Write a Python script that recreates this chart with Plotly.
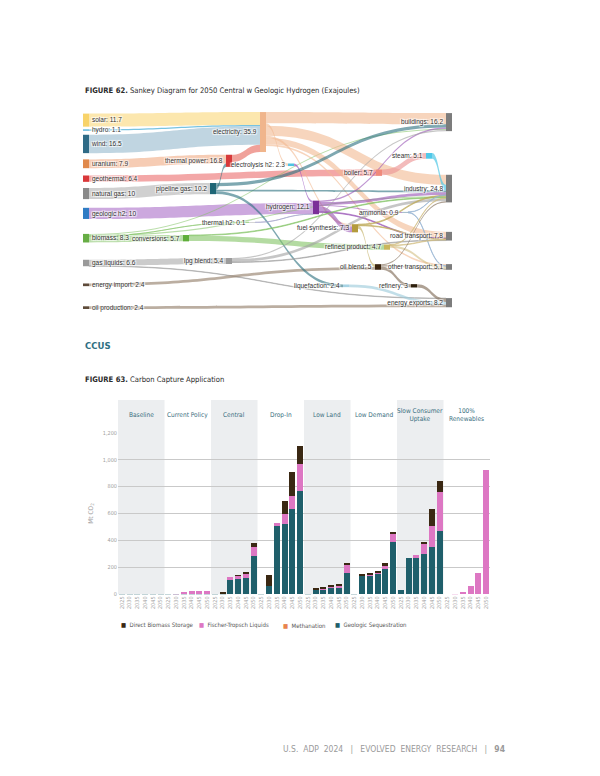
import plotly.graph_objects as go

# page is 600x776; the html body has an 8px margin, so the figure is placed at (8, 8)
OFF = 8
FW, FH = 584, 760
COND = "DejaVu Sans Condensed, Liberation Sans Narrow, Arial Narrow, sans-serif"
SANS = "Liberation Sans, Arial, sans-serif"


def fx(px):
    return (px - OFF) / FW


def fy(py):
    return 1 - (py - OFF) / FH


# ---------------- Sankey data ----------------
node_names = ["solar", "hydro", "wind", "uranium", "geothermal", "natural gas", "geologic h2",
              "biomass", "gas liquids", "energy import", "oil production",
              "electricity", "thermal power", "electrolysis h2", "pipeline gas", "hydrogen",
              "thermal h2", "conversions", "lpg blend", "fuel synthesis", "ammonia", "boiler",
              "steam", "refined product", "oil blend", "liquefaction", "refinery",
              "buildings", "industry", "road transport", "other transport", "energy exports"]
node_totals = [11.7, 1.1, 16.5, 7.9, 6.4, 10, 10, 8.3, 6.6, 2.4, 2.4,
               35.9, 16.8, 2.3, 10.2, 12.1, 0.1, 5.7, 5.4, 7.3, 0.9, 5.7,
               5.1, 4.7, 5, 2.4, 3,
               16.2, 24.8, 7.8, 5.1, 8.2]
sources = node_names[:11]
sinks = node_names[27:]

link_source = ["solar", "hydro", "wind", "uranium", "geothermal", "natural gas", "geologic h2",
               "biomass", "biomass", "biomass", "biomass",
               "gas liquids", "gas liquids", "energy import", "oil production",
               "thermal power",
               "electricity", "electricity", "electricity", "electricity", "electricity", "electricity",
               "electrolysis h2",
               "pipeline gas", "pipeline gas", "pipeline gas", "pipeline gas",
               "hydrogen", "hydrogen", "hydrogen", "hydrogen", "hydrogen",
               "thermal h2",
               "conversions", "conversions",
               "lpg blend", "lpg blend", "lpg blend",
               "fuel synthesis", "fuel synthesis", "fuel synthesis",
               "ammonia", "ammonia",
               "boiler", "steam",
               "refined product", "refined product", "refined product",
               "oil blend", "oil blend", "oil blend",
               "refinery", "liquefaction"]
link_target = ["electricity", "electricity", "electricity", "thermal power", "boiler", "pipeline gas", "hydrogen",
               "conversions", "industry", "buildings", "thermal h2",
               "lpg blend", "energy exports", "oil blend", "energy exports",
               "electricity",
               "buildings", "industry", "road transport", "other transport", "electrolysis h2", "fuel synthesis",
               "hydrogen",
               "thermal power", "buildings", "industry", "liquefaction",
               "fuel synthesis", "ammonia", "industry", "buildings", "road transport",
               "hydrogen",
               "refined product", "industry",
               "industry", "buildings", "road transport",
               "oil blend", "road transport", "industry",
               "other transport", "industry",
               "steam", "industry",
               "other transport", "road transport", "industry",
               "refinery", "industry", "other transport",
               "energy exports", "energy exports"]
link_value = [11.7, 1.1, 16.5, 7.9, 5.7, 10, 10,
              5.7, 1.0, 0.9, 0.1,
              5.4, 0.4, 2.4, 2.4,
              6.6,
              10, 9, 5.5, 1.5, 2.3, 2.1,
              2.1,
              3.0, 3.0, 1.5, 2.4,
              5.2, 0.9, 2.5, 1.3, 0.7,
              0.1,
              4.7, 0.6,
              2.5, 1.0, 0.5,
              2.6, 0.6, 0.8,
              0.6, 0.3,
              5.1, 5.1,
              2.0, 0.5, 0.5,
              3.0, 1.0, 1.0,
              3.0, 2.4]

# node styling / placement (pixel centres on the page)
node_color = ["#f8d36a", "#3fa9d6", "#2f6b86", "#e0894c", "#d9383a", "#8a8a8a", "#2f7cc4",
              "#67ad45", "#9a9a9a", "#5e4b3a", "#5e4b3a",
              "#f0b58c", "#d6393a", "#4ec3e3", "#1e6676", "#7a2f98",
              "#aaaaaa", "#5fae3a", "#9c9c9c", "#b49b3c", "#9fb8c8", "#ef8a7c",
              "#4fc8e8", "#c9b65c", "#3b2510", "#a7d3e4", "#2e1f0c",
              "#7c7c7c", "#7c7c7c", "#7c7c7c", "#7c7c7c", "#7c7c7c"]
node_px = {
    "solar": (86, 118), "hydro": (86, 128), "wind": (86, 142), "uranium": (86, 162),
    "geothermal": (86, 177), "natural gas": (86, 192), "geologic h2": (86, 212),
    "biomass": (86, 237), "gas liquids": (86, 262), "energy import": (86, 284),
    "oil production": (86, 307),
    "electricity": (263, 130), "thermal power": (229, 159), "electrolysis h2": (291, 163),
    "pipeline gas": (213, 187), "hydrogen": (316, 206), "thermal h2": (252, 221),
    "conversions": (186, 237), "lpg blend": (229, 260), "fuel synthesis": (355, 227),
    "ammonia": (405, 211), "boiler": (379, 171), "steam": (429, 154),
    "refined product": (387, 246), "oil blend": (378, 266), "liquefaction": (346, 285),
    "refinery": (414, 285),
    "buildings": (449, 120), "industry": (449, 187), "road transport": (449, 235),
    "other transport": (449, 266), "energy exports": (449, 302),
}
SX0, SX1, SY0, SY1 = 83, 452, 110, 312
NODE_T = 6

link_rgba = {
    "solar": "rgba(250,215,120,0.6)", "hydro": "rgba(63,169,214,0.7)",
    "wind": "rgba(150,185,205,0.6)", "uranium": "rgba(240,170,130,0.6)",
    "geothermal": "rgba(236,120,120,0.65)", "natural gas": "rgba(170,170,170,0.55)",
    "geologic h2": "rgba(170,110,200,0.6)", "biomass": "rgba(130,195,100,0.55)",
    "gas liquids": "rgba(160,160,160,0.55)", "energy import": "rgba(150,130,110,0.65)",
    "oil production": "rgba(150,130,110,0.65)", "thermal power": "rgba(232,110,100,0.65)",
    "electricity": "rgba(242,185,145,0.6)", "electrolysis h2": "rgba(150,80,190,0.65)",
    "pipeline gas": "rgba(40,110,125,0.6)", "hydrogen": "rgba(150,80,180,0.6)",
    "thermal h2": "rgba(160,160,200,0.55)", "conversions": "rgba(130,195,100,0.6)",
    "lpg blend": "rgba(160,160,160,0.6)", "fuel synthesis": "rgba(190,170,90,0.6)",
    "ammonia": "rgba(150,180,210,0.65)", "boiler": "rgba(236,150,150,0.65)",
    "steam": "rgba(80,200,230,0.7)", "refined product": "rgba(210,190,130,0.6)",
    "oil blend": "rgba(130,110,90,0.65)", "refinery": "rgba(130,110,90,0.65)",
    "liquefaction": "rgba(160,205,220,0.65)",
}

idx = {n: i for i, n in enumerate(node_names)}
full_labels = [f"{n}: {v:g}" for n, v in zip(node_names, node_totals)]
# plotly draws first/last column labels on the correct side; middle labels are drawn as annotations
sankey_labels = [lab if (n in sources or n in sinks) else "" for n, lab in zip(node_names, full_labels)]
node_x = [(node_px[n][0] - SX0) / (SX1 - SX0) for n in node_names]
node_y = [(node_px[n][1] - SY0) / (SY1 - SY0) for n in node_names]

sankey = go.Sankey(
    domain=dict(x=[fx(SX0), fx(SX1)], y=[fy(SY1), fy(SY0)]),
    arrangement="fixed",
    textfont=dict(size=6.5, color="#333333", family=SANS),
    node=dict(label=sankey_labels, color=node_color, x=node_x, y=node_y,
              pad=11, thickness=NODE_T, line=dict(width=0),
              customdata=full_labels, hovertemplate="%{customdata}<extra></extra>"),
    link=dict(source=[idx[s] for s in link_source],
              target=[idx[t] for t in link_target],
              value=link_value,
              color=[link_rgba[s] for s in link_source]),
)

# ---------------- Bar chart data ----------------
scenarios = ["Baseline", "Current Policy", "Central", "Drop-In", "Low Land", "Low Demand",
             "Slow Consumer<br>Uptake", "100%<br>Renewables"]
years = ["2025", "2030", "2035", "2040", "2045", "2050"]

geologic_seq = [
    [4, 4, 4, 4, 4, 4],
    [1, 2, 3, 4, 4, 4],
    [2, 12, 108, 112, 122, 285],
    [2, 65, 510, 520, 630, 770],
    [2, 35, 40, 50, 55, 155],
    [3, 140, 145, 160, 190, 390],
    [30, 270, 270, 300, 350, 470],
    [0, 0, 0, 0, 0, 0],
]
methanation = [[0] * 6 for _ in range(8)]
ft_liquids = [
    [0, 0, 0, 0, 0, 0],
    [0, 3, 15, 22, 24, 24],
    [0, 0, 20, 28, 32, 70],
    [0, 0, 18, 80, 100, 200],
    [0, 0, 5, 8, 8, 60],
    [0, 5, 5, 5, 30, 55],
    [0, 0, 25, 70, 160, 290],
    [0, 2, 15, 60, 155, 920],
]
direct_biomass = [
    [0, 0, 0, 0, 0, 0],
    [0, 0, 0, 0, 0, 0],
    [0, 3, 0, 3, 15, 25],
    [0, 80, 0, 90, 180, 130],
    [0, 12, 12, 15, 15, 15],
    [0, 5, 8, 12, 10, 15],
    [0, 0, 0, 20, 120, 80],
    [0, 0, 0, 0, 0, 0],
]

ny = len(years)
xpos = [g * ny + k for g in range(len(scenarios)) for k in range(ny)]


def flat(m):
    return [v for row in m for v in row]


series = [
    ("Geologic Sequestration", geologic_seq, "#1f5f6b"),
    ("Methanation", methanation, "#e8834e"),
    ("Fischer-Tropsch Liquids", ft_liquids, "#dd77c3"),
    ("Direct Biomass Storage", direct_biomass, "#3a2813"),
]

fig = go.Figure()
fig.add_trace(sankey)
for name, vals, col in series:
    fig.add_trace(go.Bar(x=xpos, y=flat(vals), name=name,
                         marker=dict(color=col, line=dict(width=0)),
                         xaxis="x", yaxis="y", showlegend=False))

BX0, BX1 = 118, 490
BY0, BY1 = 433, 596
nb = len(xpos)

shapes = []
for g in range(0, len(scenarios), 2):
    shapes.append(dict(type="rect", xref="x", yref="paper",
                       x0=g * ny - 0.5, x1=g * ny + ny - 0.5,
                       y0=fy(BY1), y1=fy(400),
                       fillcolor="#eceef0", line=dict(width=0), layer="below"))

ann = []
# middle-node labels of the sankey, to the left of their node
for n, lab in zip(node_names, full_labels):
    if n in sources or n in sinks:
        continue
    px, py = node_px[n]
    ann.append(dict(x=fx(px - NODE_T / 2 - 1.5), y=fy(py), xref="paper", yref="paper",
                    xanchor="right", yanchor="middle", text=lab, showarrow=False,
                    font=dict(size=6.5, color="#333333", family=SANS,
                              shadow="1px 1px 1px #fff, -1px -1px 1px #fff, 1px -1px 1px #fff, -1px 1px 1px #fff")))

for g, s in enumerate(scenarios):
    ann.append(dict(x=g * ny + (ny - 1) / 2, y=fy(415), xref="x", yref="paper",
                    text=s, showarrow=False, font=dict(size=6.5, color="#3a6f80", family=COND),
                    xanchor="center", yanchor="middle"))

# legend built as text items
legend_px = [119, 197, 281, 333]
for (name, vals, col), lx in zip(reversed(series), legend_px):
    ann.append(dict(x=fx(lx), y=fy(627), xref="paper", yref="paper", xanchor="left", yanchor="middle",
                    text=f"<span style='color:{col}'>■</span>  {name}", showarrow=False,
                    font=dict(size=6, color="#555555", family=COND)))

ann += [
    dict(x=fx(83), y=fy(88), xref="paper", yref="paper", xanchor="left", yanchor="middle",
         text="<b>FIGURE 62.</b> Sankey Diagram for 2050 Central w Geologic Hydrogen (Exajoules)",
         showarrow=False, font=dict(size=7.6, color="#2b2b2b", family=COND)),
    dict(x=fx(83), y=fy(345), xref="paper", yref="paper", xanchor="left", yanchor="middle",
         text="<b>CCUS</b>", showarrow=False, font=dict(size=9.5, color="#2f6f82", family=COND)),
    dict(x=fx(83), y=fy(379), xref="paper", yref="paper", xanchor="left", yanchor="middle",
         text="<b>FIGURE 63.</b> Carbon Capture Application",
         showarrow=False, font=dict(size=7.6, color="#2b2b2b", family=COND)),
    dict(x=fx(394), y=fy(752), xref="paper", yref="paper", xanchor="center", yanchor="middle",
         text="U.S.  ADP  2024   |   EVOLVED  ENERGY  RESEARCH   |   <b>94</b>",
         showarrow=False, font=dict(size=8.5, color="#9a9a9a", family=COND)),
]

fig.update_layout(
    width=FW, height=FH, margin=dict(l=0, r=0, t=0, b=0),
    paper_bgcolor="white", plot_bgcolor="rgba(0,0,0,0)",
    barmode="stack", bargap=0.22, showlegend=False,
    font=dict(family=COND, color="#555"),
    xaxis=dict(domain=[fx(BX0), fx(BX1)], anchor="y", range=[-0.5, nb - 0.5],
               tickmode="array", tickvals=xpos, ticktext=years * len(scenarios),
               tickangle=-90, tickfont=dict(size=5.5, color="#a0a0a0", family=COND),
               showgrid=False, zeroline=False, showline=False, ticks=""),
    yaxis=dict(domain=[fy(BY1), fy(BY0)], anchor="x", range=[0, 1200],
               tickvals=[0, 200, 400, 600, 800, 1000, 1200], tickformat=",",
               tickfont=dict(size=5.5, color="#a0a0a0", family=COND),
               showgrid=True, gridcolor="#c9c9c9", gridwidth=0.8, zeroline=False,
               title=dict(text="Mt CO<sub>2</sub>", font=dict(size=6.5, color="#a0a0a0"), standoff=8)),
    shapes=shapes, annotations=ann,
)

fig.write_html("out.html")
